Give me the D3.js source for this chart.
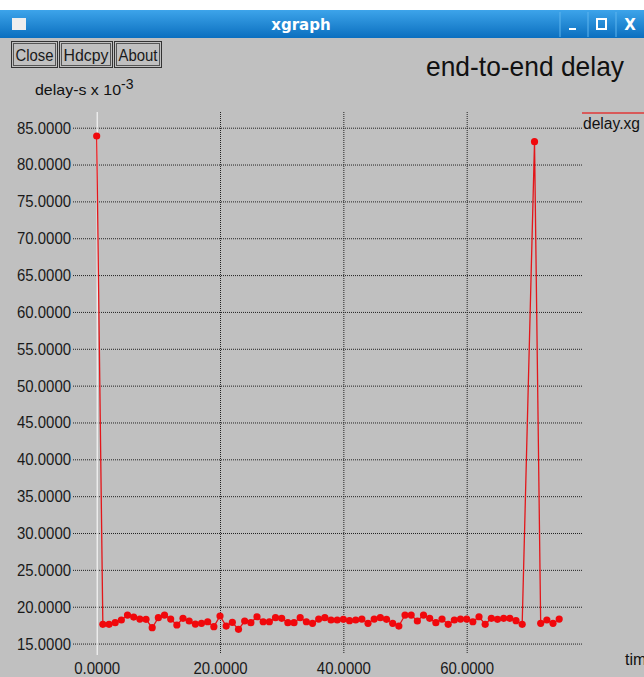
<!DOCTYPE html>
<html>
<head>
<meta charset="utf-8">
<script src="https://cdn.jsdelivr.net/npm/d3@7"></script>
<style>
  body { margin: 0; background: #c0c0c0; }
  svg { display: block; font-family: "Liberation Sans", Arial, sans-serif; }
</style>
</head>
<body>
<svg id="chart" width="644" height="677"></svg>
<script>
// delay samples (time, delay in ms)
const times = [0, 1, 2, 3, 4, 5, 6, 7, 8, 9, 10, 11, 12, 13, 14, 15, 16, 17, 18, 19, 20,
  21, 22, 23, 24, 25, 26, 27, 28, 29, 30, 31, 32, 33, 34, 35, 36, 37, 38, 39, 40,
  41, 42, 43, 44, 45, 46, 47, 48, 49, 50, 51, 52, 53, 54, 55, 56, 57, 58, 59, 60,
  61, 62, 63, 64, 65, 66, 67, 68, 69, 71, 72, 73, 74, 75];
const delays = [83.87, 17.61, 17.61, 17.83, 18.20, 18.87, 18.60, 18.33, 18.29, 17.15, 18.51,
  18.87, 18.33, 17.52, 18.43, 18.06, 17.65, 17.75, 17.96, 17.29, 18.74,
  17.38, 17.88, 16.93, 18.06, 17.83, 18.64, 17.96, 17.96, 18.51, 18.43,
  17.83, 17.83, 18.51, 17.96, 17.75, 18.33, 18.51, 18.20, 18.20, 18.29,
  18.10, 18.20, 18.33, 17.75, 18.33, 18.51, 18.29, 17.75, 17.38, 18.87,
  18.87, 18.06, 18.87, 18.43, 17.83, 18.33, 17.61, 18.20, 18.33, 18.33,
  17.96, 18.64, 17.61, 18.43, 18.29, 18.43, 18.43, 18.10, 17.61, 83.10,
  17.75, 18.20, 17.75, 18.33];
const yTicks = [15, 20, 25, 30, 35, 40, 45, 50, 55, 60, 65, 70, 75, 80, 85];
const xTicks = [0, 20, 40, 60];
const buttons = ["Close", "Hdcpy", "About"];

const data = times.map((t, i) => ({ t: t, v: delays[i] }));

const svg = d3.select("#chart");

// ---- window decoration ----
svg.append("rect").attr("width", 644).attr("height", 677).attr("fill", "#c0c0c0");
svg.append("rect").attr("width", 644).attr("height", 10).attr("fill", "#ffffff");

const grad = svg.append("defs").append("linearGradient")
  .attr("id", "titlebar").attr("x1", 0).attr("y1", 0).attr("x2", 0).attr("y2", 1);
grad.append("stop").attr("offset", "0%").attr("stop-color", "#3da4ea");
grad.append("stop").attr("offset", "100%").attr("stop-color", "#0b6fbf");

svg.append("rect").attr("y", 10).attr("width", 644).attr("height", 28).attr("fill", "url(#titlebar)");
svg.append("rect").attr("x", 12).attr("y", 18).attr("width", 14).attr("height", 12)
  .attr("fill", "#eeeeee");
svg.append("text").attr("x", 301).attr("y", 30).attr("text-anchor", "middle")
  .attr("fill", "#ffffff").attr("font-weight", "bold").attr("font-size", 15)
  .attr("font-family", "DejaVu Sans, sans-serif").text("xgraph");

// window control buttons
[560, 588, 616].forEach(x => {
  svg.append("line").attr("x1", x).attr("x2", x).attr("y1", 12).attr("y2", 37)
    .attr("stroke", "#5fb5ee").attr("stroke-width", 1);
});
svg.append("rect").attr("x", 569).attr("y", 28).attr("width", 7).attr("height", 2).attr("fill", "#fff");
svg.append("rect").attr("x", 597).attr("y", 19).attr("width", 9).attr("height", 10)
  .attr("fill", "none").attr("stroke", "#fff").attr("stroke-width", 2);
svg.append("text").attr("x", 630).attr("y", 30).attr("text-anchor", "middle")
  .attr("fill", "#fff").attr("font-weight", "bold").attr("font-size", 15)
  .attr("font-family", "DejaVu Sans, sans-serif").text("X");

// xgraph buttons
const btnX = [11, 59, 114];
const btnW = [46, 53, 47];
buttons.forEach((b, i) => {
  svg.append("rect").attr("x", btnX[i] + 0.5).attr("y", 41.5).attr("width", btnW[i]).attr("height", 26)
    .attr("fill", "#c0c0c0").attr("stroke", "#333").attr("stroke-width", 1);
  svg.append("rect").attr("x", btnX[i] + 2.5).attr("y", 43.5).attr("width", btnW[i] - 4).attr("height", 22)
    .attr("fill", "none").attr("stroke", "#555").attr("stroke-width", 1);
  svg.append("text").attr("x", btnX[i] + btnW[i] / 2 + 0.5).attr("y", 61).attr("text-anchor", "middle")
    .attr("font-size", 16).attr("fill", "#1a1a1a").attr("textLength", btnW[i] - 8)
    .attr("lengthAdjust", "spacingAndGlyphs").text(b);
});

// title and axis unit
svg.append("text").attr("x", 624).attr("y", 76).attr("text-anchor", "end")
  .attr("font-size", 28).attr("fill", "#111").attr("textLength", 198)
  .attr("lengthAdjust", "spacingAndGlyphs").text("end-to-end delay");

const unit = svg.append("text").attr("x", 35).attr("y", 95).attr("font-size", 15).attr("fill", "#111");
unit.append("tspan").attr("textLength", 86).attr("lengthAdjust", "spacingAndGlyphs").text("delay-s x 10");
unit.append("tspan").attr("dy", -6).attr("font-size", 14).text("-3");

// ---- plot ----
const x = d3.scaleLinear().domain([-3.84, 78.7]).range([73, 582]);
const y = d3.scaleLinear().domain([13.72, 87.13]).range([653, 112]);

const yAxis = d3.axisLeft(y).tickValues(yTicks).tickSize(-(582 - 73)).tickPadding(2)
  .tickFormat(d => d.toFixed(4));
const gy = svg.append("g").attr("transform", "translate(73,0)").call(yAxis);
gy.select(".domain").remove();
gy.selectAll("line").attr("stroke", "#222").attr("stroke-dasharray", "1,1");
gy.selectAll("text").attr("font-size", 17).attr("fill", "#1a1a1a")
  .attr("textLength", 54).attr("lengthAdjust", "spacingAndGlyphs")
  .attr("font-family", "Liberation Sans, Arial, sans-serif");

const xAxis = d3.axisBottom(x).tickValues(xTicks).tickSize(-(653 - 112)).tickPadding(9)
  .tickFormat(d => d.toFixed(4));
const gx = svg.append("g").attr("transform", "translate(0,653)").call(xAxis);
gx.select(".domain").remove();
gx.selectAll("line")
  .attr("stroke", d => d === 0 ? "#ffffff" : "#222")
  .attr("stroke-dasharray", d => d === 0 ? null : "1,1")
  .attr("y1", d => d === 0 ? 2 : 0);
gx.selectAll("text").attr("font-size", 17).attr("fill", "#1a1a1a")
  .attr("textLength", d => d === 0 ? 46 : 54).attr("lengthAdjust", "spacingAndGlyphs")
  .attr("font-family", "Liberation Sans, Arial, sans-serif");

svg.append("text").attr("x", 625).attr("y", 665).attr("font-size", 16).attr("fill", "#111").text("time");

// series line and points
const line = d3.line().x(d => x(d.t)).y(d => y(d.v));
svg.append("path").datum(data).attr("d", line)
  .attr("fill", "none").attr("stroke", "#e3161a").attr("stroke-width", 1.3);

svg.append("g").selectAll("circle").data(data).enter().append("circle")
  .attr("cx", d => x(d.t)).attr("cy", d => y(d.v)).attr("r", 3.6)
  .attr("fill", "#f0080c");

// legend
svg.append("line").attr("x1", 582).attr("x2", 644).attr("y1", 113).attr("y2", 113)
  .attr("stroke", "#d85a5a").attr("stroke-width", 2);
svg.append("text").attr("x", 583).attr("y", 129).attr("font-size", 16).attr("fill", "#111")
  .attr("textLength", 57).attr("lengthAdjust", "spacingAndGlyphs").text("delay.xg");
</script>
</body>
</html>
